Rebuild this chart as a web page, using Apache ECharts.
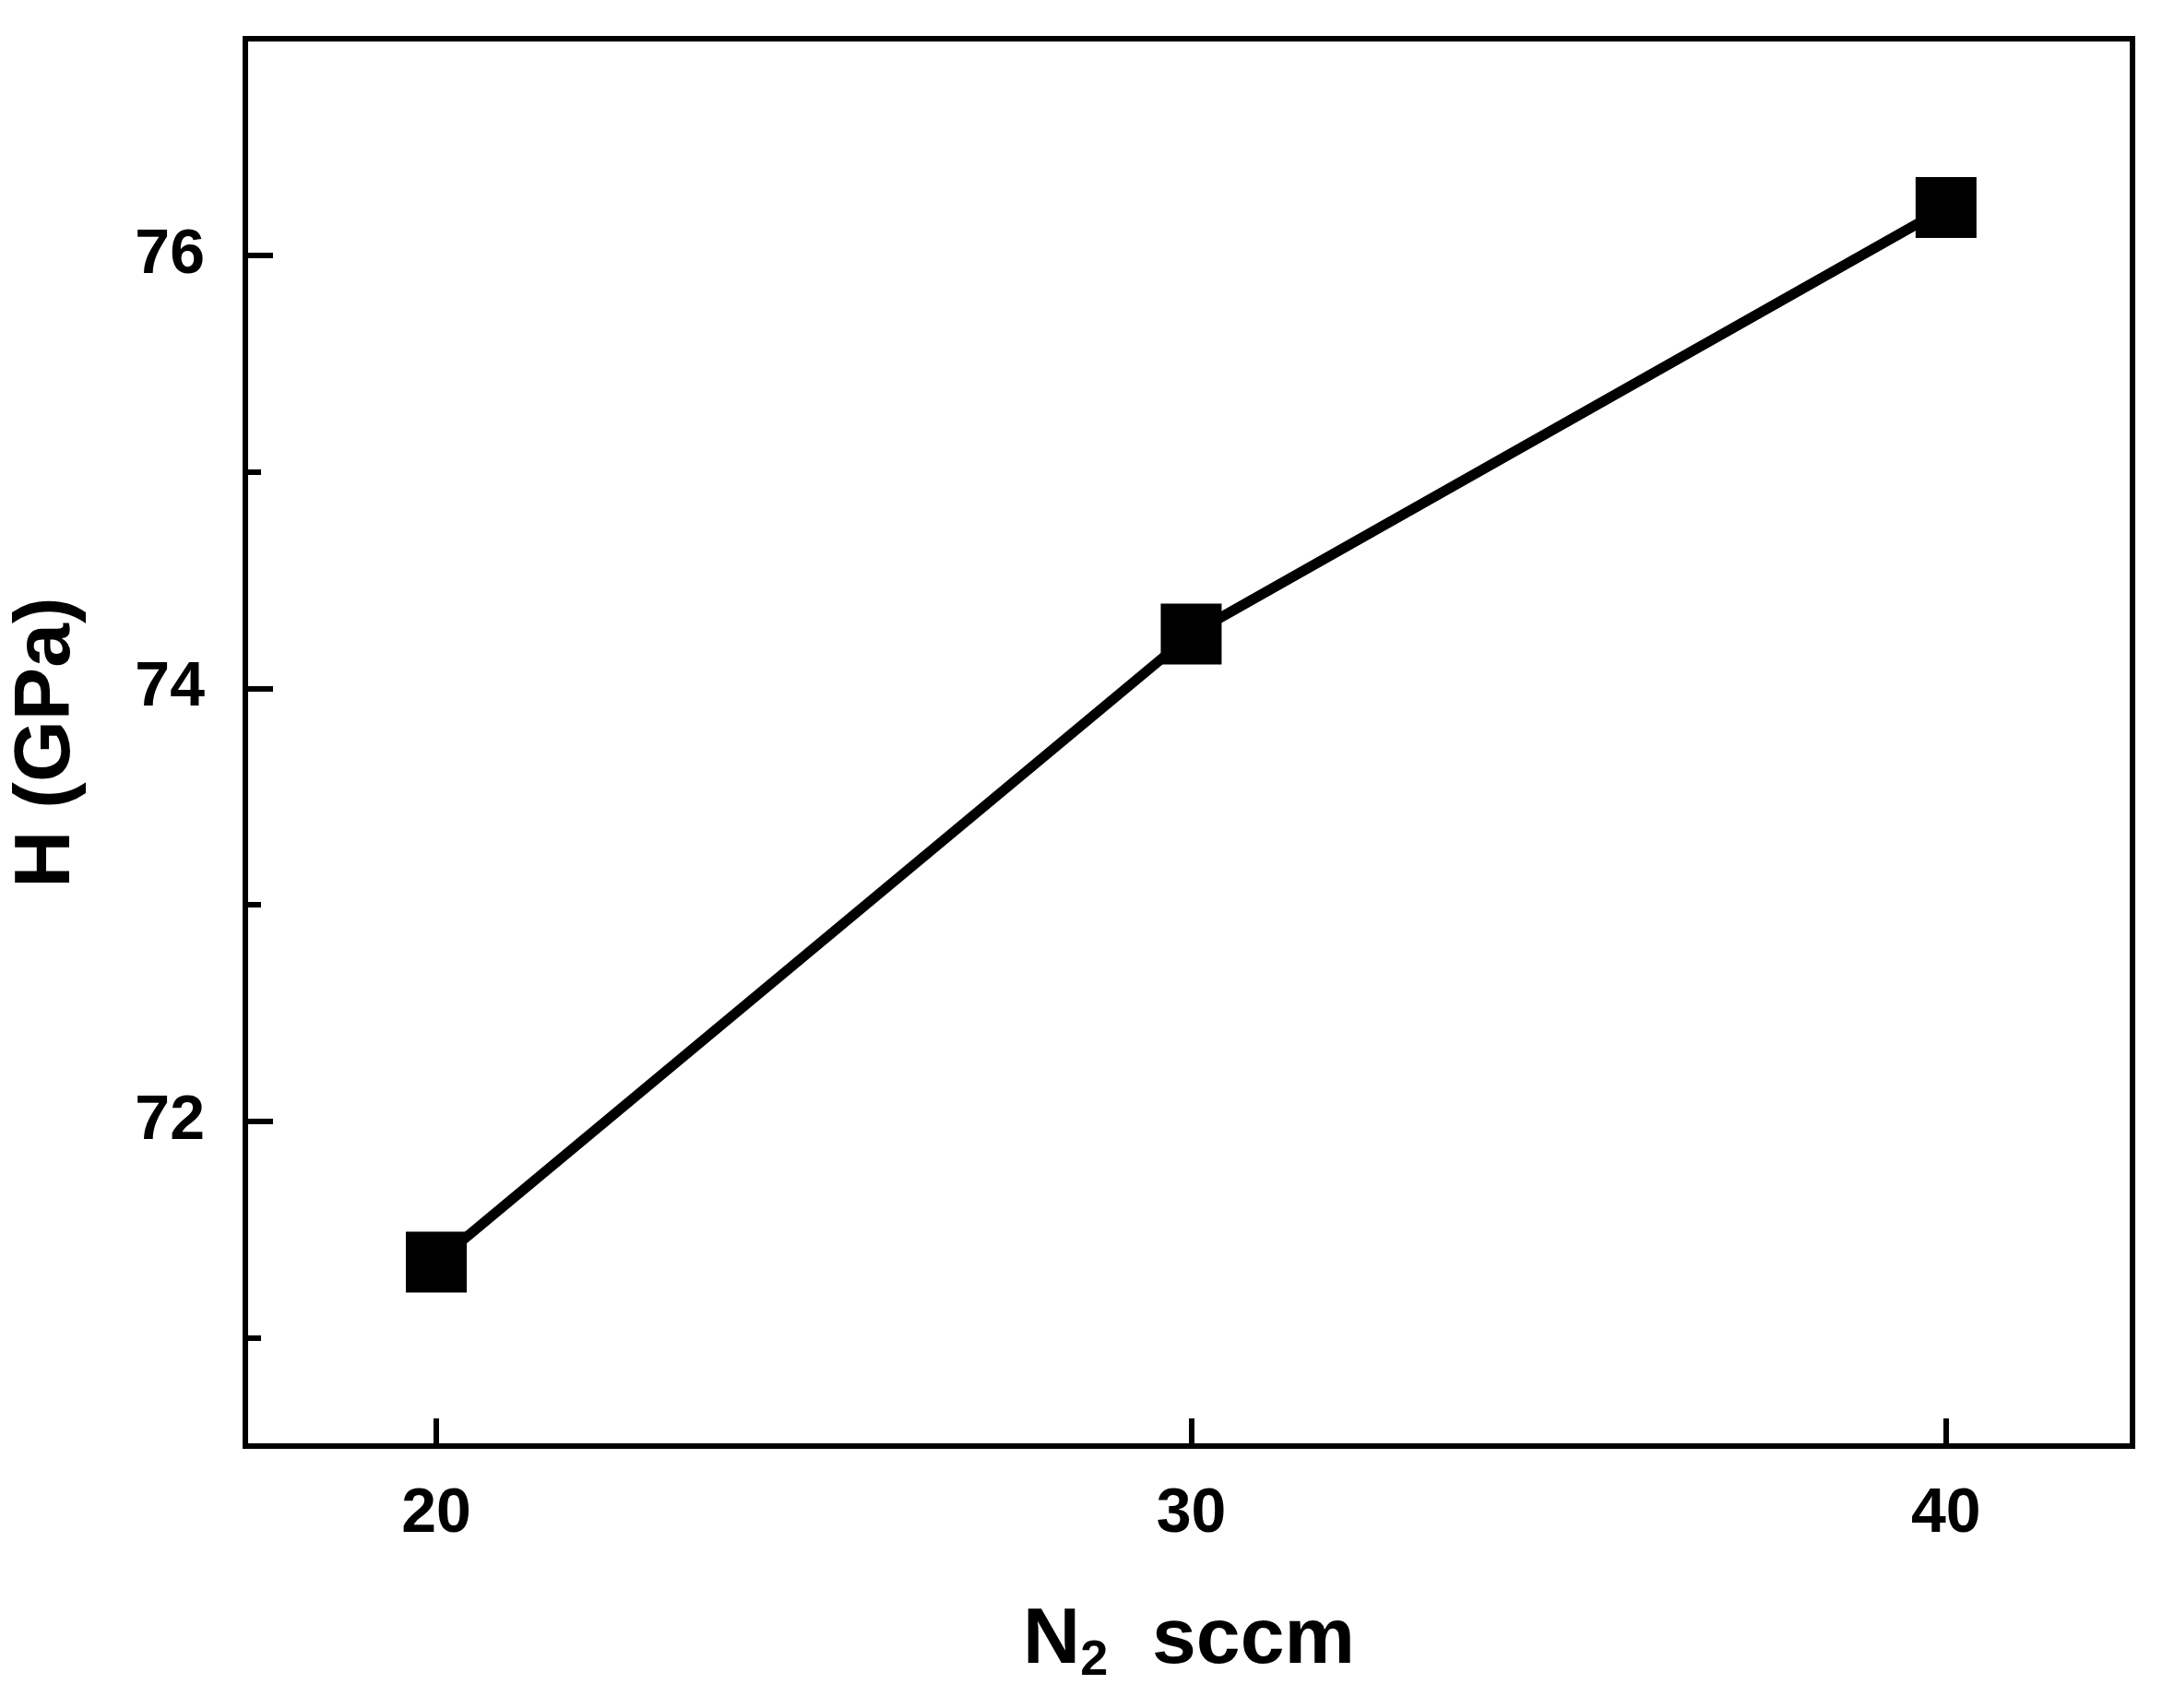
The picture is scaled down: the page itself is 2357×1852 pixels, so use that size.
<!DOCTYPE html>
<html><head><meta charset="utf-8">
<script src="https://cdn.jsdelivr.net/npm/echarts@6/dist/echarts.min.js"></script>
<style>html,body{margin:0;padding:0;background:#fff}#c{width:2357px;height:1852px}</style>
</head><body><div id="c"></div>
<script>
const xValues = [20, 30, 40];
const hValues = [71.35, 74.25, 76.22];
const xTicks = [20, 30, 40];
const yTicks = [72, 74, 76];
const yMinorTicks = [71, 73, 75];
const font = 'Liberation Sans, Arial, sans-serif';
const chart = echarts.init(document.getElementById('c'));
chart.setOption({
  backgroundColor: '#fff',
  grid: {left: 262, right: 45, top: 42, bottom: 284, show: true, borderColor: '#000', borderWidth: 6, backgroundColor: 'transparent'},
  xAxis: {
    type: 'value', min: 17.47, max: 42.47,
    axisLine: {lineStyle: {color: '#000', width: 6}},
    axisTick: {inside: true, length: 30, lineStyle: {width: 6, color: '#000'}, customValues: xTicks},
    axisLabel: {customValues: xTicks, color: '#000', fontSize: 68, fontWeight: 'bold', fontFamily: font, margin: 40},
    splitLine: {show: false},
    name: 'N{sub|2}  sccm', nameLocation: 'middle', nameGap: 162,
    nameTextStyle: {color: '#000', fontSize: 86, fontWeight: 'bold', fontFamily: font,
      rich: {sub: {fontSize: 54, fontWeight: 'bold', fontFamily: font, verticalAlign: 'bottom', padding: [44, 0, 0, 0]}}}
  },
  yAxis: [{
    type: 'value', min: 70.5, max: 77,
    axisLine: {show: true, lineStyle: {color: '#000', width: 6}},
    axisTick: {inside: true, length: 30, lineStyle: {width: 6, color: '#000'}, customValues: yTicks},
    axisLabel: {customValues: yTicks, color: '#000', fontSize: 68, fontWeight: 'bold', fontFamily: font, margin: 44},
    splitLine: {show: false},
    name: 'H (GPa)', nameLocation: 'middle', nameGap: 172,
    nameTextStyle: {color: '#000', fontSize: 86, fontWeight: 'bold', fontFamily: font}
  }, {
    type: 'value', min: 70.5, max: 77, position: 'left',
    axisLine: {show: false},
    axisTick: {show: true, inside: true, length: 17, lineStyle: {width: 6, color: '#000'}, customValues: yMinorTicks},
    axisLabel: {show: false},
    splitLine: {show: false}
  }],
  series: [{
    type: 'line', data: xValues.map((x, i) => [x, hValues[i]]),
    symbol: 'rect', symbolSize: 66,
    lineStyle: {color: '#000', width: 11},
    itemStyle: {color: '#000'}
  }]
});
</script></body></html>
